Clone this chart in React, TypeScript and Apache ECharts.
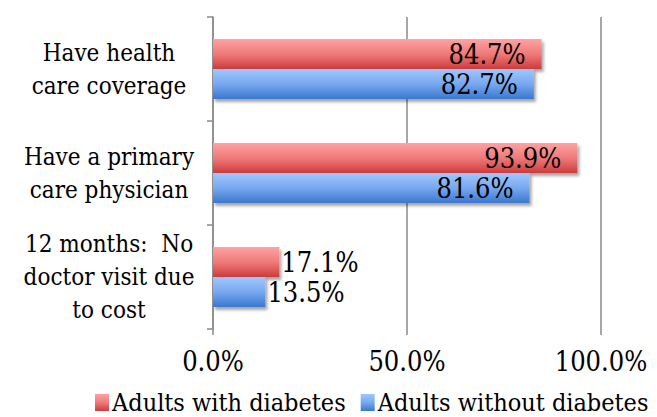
import React, { useEffect, useRef } from "react";
import * as echarts from "echarts";

const categories = [
  "Have health\ncare coverage",
  "Have a primary\ncare physician",
  "12 months:  No\ndoctor visit due\nto cost",
];
const seriesNames = ["Adults with diabetes", "Adults without diabetes"];
const withDiabetes = [84.7, 93.9, 17.1];
const withoutDiabetes = [82.7, 81.6, 13.5];
const xTicks = { min: 0, max: 100, interval: 50 };

const FONT = "DejaVu Serif Condensed";

const redGrad = new echarts.graphic.LinearGradient(0, 0, 0, 1, [
  { offset: 0, color: "#ffa2a2" },
  { offset: 0.5, color: "#ef7a7a" },
  { offset: 1, color: "#cc3c3c" },
]);
const blueGrad = new echarts.graphic.LinearGradient(0, 0, 0, 1, [
  { offset: 0, color: "#a0c6ff" },
  { offset: 0.5, color: "#78a8ef" },
  { offset: 1, color: "#3a78cf" },
]);

function makeData(values: number[]) {
  return values.map((v) => ({
    value: v,
    label:
      v > 50
        ? { position: "insideRight", distance: 16 }
        : { position: "right", distance: 2 },
  }));
}

export default function App() {
  const ref = useRef<HTMLDivElement>(null);
  useEffect(() => {
    if (!ref.current) return;
    const chart = echarts.init(ref.current, undefined, { renderer: "svg" });
    const labelStyle = {
      show: true,
      color: "#000",
      fontFamily: FONT,
      fontSize: 27,
      formatter: (p: any) => p.value.toFixed(1) + "%",
    };
    const shadow = {
      shadowColor: "rgba(0,0,0,0.35)",
      shadowBlur: 3,
      shadowOffsetX: 2,
      shadowOffsetY: 3,
    };
    chart.setOption({
      animation: false,
      textStyle: { fontFamily: FONT },
      grid: { left: 213, right: 56, top: 17, bottom: 88, containLabel: false },
      legend: {
        data: seriesNames,
        left: 90,
        top: 385,
        width: 600,
        itemWidth: 14,
        itemHeight: 17,
        itemGap: 15,
        textStyle: { fontFamily: FONT, fontSize: 25, color: "#000", padding: [0, 0, 0, -2] },
        icon: "rect",
      },
      xAxis: {
        type: "value",
        min: xTicks.min,
        max: xTicks.max,
        interval: xTicks.interval,
        axisLine: { show: false },
        axisTick: { show: true, length: 6, lineStyle: { color: "#8a8a8a", width: 1.5 } },
        splitLine: { show: true, lineStyle: { color: "#8a8a8a", width: 1.5 } },
        axisLabel: {
          margin: 19,
          fontFamily: FONT,
          fontSize: 27,
          color: "#000",
          formatter: (v: number) => v.toFixed(1) + "%",
        },
      },
      yAxis: {
        type: "category",
        data: categories,
        inverse: true,
        axisLine: { show: true, lineStyle: { color: "#8a8a8a", width: 1.5 } },
        axisTick: { show: true, length: 6, lineStyle: { color: "#8a8a8a", width: 1.5 } },
        axisLabel: {
          align: "center",
          margin: 104,
          fontFamily: FONT,
          fontSize: 24,
          lineHeight: 33,
          color: "#000",
        },
      },
      series: [
        {
          name: seriesNames[0],
          type: "bar",
          data: makeData(withDiabetes),
          barWidth: 30,
          barGap: "0%",
          itemStyle: { color: redGrad, ...shadow },
          label: labelStyle,
        },
        {
          name: seriesNames[1],
          type: "bar",
          data: makeData(withoutDiabetes),
          barWidth: 30,
          barGap: "0%",
          itemStyle: { color: blueGrad, ...shadow },
          label: labelStyle,
        },
      ],
    });
    return () => chart.dispose();
  }, []);
  return <div ref={ref} style={{ width: 657, height: 417, position: "absolute", left: 0, top: 0 }} />;
}
